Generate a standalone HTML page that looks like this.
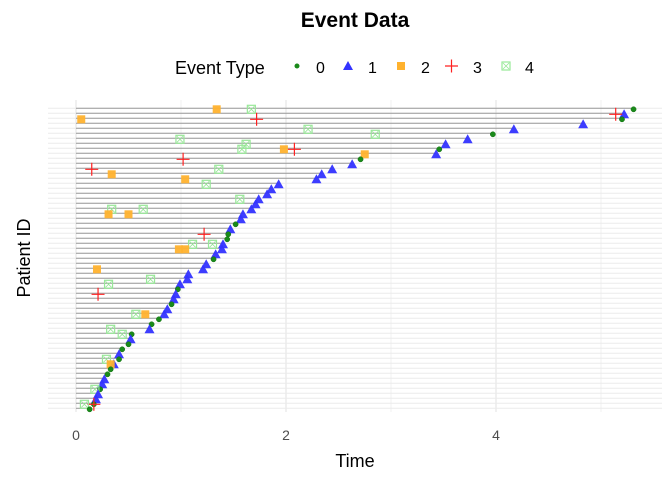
<!DOCTYPE html>
<html><head><meta charset="utf-8">
<style>
body{margin:0;background:#fff;font-family:"Liberation Sans",sans-serif;}
svg{display:block}
</style></head>
<body>
<svg id="chart" width="672" height="480" viewBox="0 0 672 480">
<text x="355" y="27" text-anchor="middle" font-size="21" font-weight="bold" fill="#000">Event Data</text>
<g id="legend">
<text x="175" y="74" font-size="18" fill="#000">Event Type</text>
<g><circle cx="297" cy="66" r="2.5" fill="#1a8a1a"/><text x="316" y="73" font-size="16">0</text></g>
<g><polygon points="348,61 353,70 343,70" fill="#3333ff"/><text x="368" y="73" font-size="16">1</text></g>
<g><rect x="397" y="62" width="8" height="8" fill="#ffb22e"/><text x="421" y="73" font-size="16">2</text></g>
<g><path d="M445 66h13M451.5 59.5v13" stroke="#ff2020" stroke-width="1.2"/><text x="473" y="73" font-size="16">3</text></g>
<g><rect x="502" y="62" width="8" height="8" fill="none" stroke="#98e898" stroke-width="1.2"/><path d="M503 63l6 6M509 63l-6 6" stroke="#98e898" stroke-width="0.8"/><text x="525" y="73" font-size="16">4</text></g>
</g>
<g id="grid"></g>
<g id="bars"></g>
<g id="marks"></g>
<g id="axes"></g>
<text x="355" y="467" text-anchor="middle" font-size="18">Time</text>
<text transform="translate(30,258) rotate(-90)" text-anchor="middle" font-size="18">Patient ID</text>
</svg>
<script>
const endTimes=[5.31,5.22,5.20,4.83,4.17,3.97,3.73,3.52,3.46,3.43,2.71,2.63,2.44,2.34,2.29,1.93,1.86,1.82,1.74,1.71,1.67,1.59,1.57,1.52,1.47,1.45,1.44,1.40,1.39,1.33,1.31,1.24,1.21,1.07,1.06,0.99,0.97,0.95,0.93,0.91,0.87,0.84,0.79,0.72,0.70,0.53,0.52,0.50,0.44,0.41,0.41,0.36,0.33,0.30,0.27,0.25,0.23,0.21,0.19,0.17,0.13];
const evRow=[0,0,0,1,1,2,2,2,3,4,4,5,5,6,6,7,7,8,8,8,8,9,9,10,10,11,12,12,12,13,13,14,14,15,15,16,17,18,18,19,20,20,20,21,21,21,22,23,24,25,25,26,27,27,27,28,28,28,29,30,31,32,32,33,34,34,35,35,36,37,37,38,39,40,41,41,41,42,43,44,44,45,45,46,47,48,49,50,50,51,51,52,53,54,55,56,56,57,58,59,59,59,60];
const evTime=[1.34,1.67,5.31,5.22,5.14,0.05,1.72,5.20,4.83,4.17,2.21,3.97,2.85,3.73,0.99,3.52,1.62,3.46,1.98,2.08,1.58,3.43,2.75,2.71,1.02,2.63,2.44,0.15,1.36,2.34,0.34,2.29,1.04,1.93,1.24,1.86,1.82,1.74,1.56,1.71,1.67,0.34,0.64,1.59,0.31,0.50,1.57,1.52,1.47,1.45,1.22,1.44,1.40,1.11,1.30,1.39,0.98,1.04,1.33,1.31,1.24,1.21,0.20,1.07,1.06,0.71,0.99,0.31,0.97,0.95,0.21,0.93,0.91,0.87,0.84,0.57,0.66,0.79,0.72,0.70,0.33,0.53,0.44,0.52,0.50,0.44,0.41,0.41,0.29,0.36,0.33,0.33,0.30,0.27,0.25,0.23,0.18,0.21,0.19,0.17,0.17,0.08,0.13];
const evType=[2,4,0,1,3,2,3,0,1,1,4,0,4,1,4,1,4,0,2,3,4,1,2,0,3,1,1,3,4,1,2,1,2,1,4,1,1,1,4,1,1,4,4,1,2,2,1,0,1,0,3,0,1,4,4,1,2,2,1,0,1,1,2,1,1,4,1,4,0,1,3,1,0,1,1,4,2,0,0,1,4,0,4,1,0,0,1,0,4,1,2,0,0,1,1,0,4,1,1,0,3,4,0];
const xTicks=[0,2,4];
const xMinor=[1,3,5];

const NS="http://www.w3.org/2000/svg";
const X0=76,PX=105,Y0=108.3,DY=5,LEFT=48,RIGHT=662;
const xs=t=>X0+t*PX;
const ys=r=>Y0+r*DY;
function mk(tag,attrs,parent){const e=document.createElementNS(NS,tag);for(const k in attrs)e.setAttribute(k,attrs[k]);parent.appendChild(e);return e;}
const grid=document.getElementById('grid'),bars=document.getElementById('bars'),marks=document.getElementById('marks'),axes=document.getElementById('axes');
xMinor.forEach(v=>{const l=mk('line',{x1:xs(v),x2:xs(v),y1:100,y2:412,stroke:'#f0f0f0','stroke-width':1},grid);

});
xTicks.forEach(v=>{const l=mk('line',{x1:xs(v),x2:xs(v),y1:100,y2:412,stroke:'#e6e6e6','stroke-width':1.2},grid);


const t=mk('text',{x:xs(v),y:440,'text-anchor':'middle','font-size':14,fill:'#4d4d4d'},axes);t.textContent=v;

});
endTimes.forEach((e,i)=>{const g=mk('line',{x1:LEFT,x2:RIGHT,y1:ys(i),y2:ys(i),stroke:'#ebebeb','stroke-width':1},grid);


const b=mk('line',{x1:xs(0),x2:xs(e),y1:ys(i),y2:ys(i),stroke:'#999','stroke-width':1},bars);

});
evRow.forEach((r,i)=>{const cx=xs(evTime[i]),cy=ys(r)+1,t=evType[i];let el;
if(t===0)el=mk('circle',{cx:cx,cy:cy,r:2.6,fill:'#1a8a1a',stroke:'#0e6e0e','stroke-width':0.5},marks);
else if(t===1)el=mk('polygon',{points:`${cx},${cy-5} ${cx+5},${cy+4} ${cx-5},${cy+4}`,fill:'#3333ff','fill-opacity':0.95},marks);
else if(t===2)el=mk('rect',{x:cx-4,y:cy-4,width:8,height:8,fill:'#ffb22e','fill-opacity':0.95},marks);
else if(t===3)el=mk('path',{d:`M${cx-6.5} ${cy}h13M${cx} ${cy-6.5}v13`,stroke:'#ff2020','stroke-width':1.2,fill:'none'},marks);
else {el=mk('g',{},marks);mk('rect',{x:cx-4,y:cy-4,width:8,height:8,fill:'none',stroke:'#98e898','stroke-width':1.2},el);mk('path',{d:`M${cx-3} ${cy-3}l6 6M${cx+3} ${cy-3}l-6 6`,stroke:'#98e898','stroke-width':0.8},el);}

});
</script>
</body></html>
